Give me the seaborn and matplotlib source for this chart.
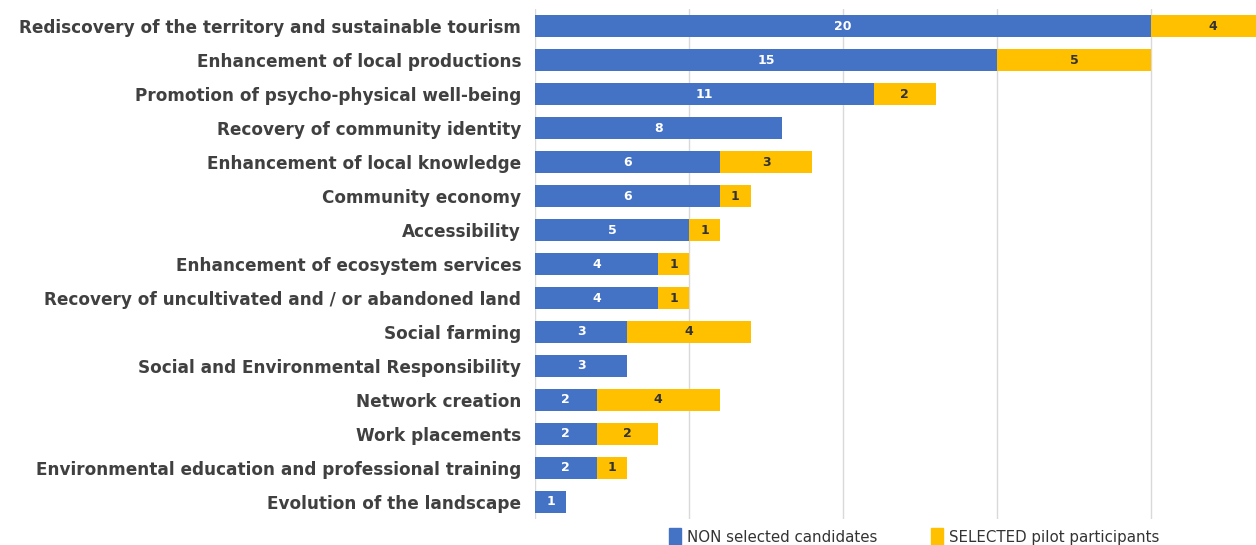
import matplotlib
matplotlib.use("Agg")
import matplotlib.pyplot as plt
import seaborn as sns
import pandas as pd
from matplotlib.patches import Patch

categories = [
    "Rediscovery of the territory and sustainable tourism",
    "Enhancement of local productions",
    "Promotion of psycho-physical well-being",
    "Recovery of community identity",
    "Enhancement of local knowledge",
    "Community economy",
    "Accessibility",
    "Enhancement of ecosystem services",
    "Recovery of uncultivated and / or abandoned land",
    "Social farming",
    "Social and Environmental Responsibility",
    "Network creation",
    "Work placements",
    "Environmental education and professional training",
    "Evolution of the landscape",
]
non_selected = [20, 15, 11, 8, 6, 6, 5, 4, 4, 3, 3, 2, 2, 2, 1]
selected = [4, 5, 2, 0, 3, 1, 1, 1, 1, 4, 0, 4, 2, 1, 0]
series_names = ["NON selected candidates", "SELECTED pilot participants"]
x_ticks = [0, 5, 10, 15, 20]

BLUE = "#4472C4"
YELLOW = "#FFC000"
TXT = "#404040"

sns.set_theme(style="white")
plt.rcParams["font.family"] = ["DejaVu Sans"]

df = pd.DataFrame({"cat": categories, "non": non_selected, "sel": selected})
df["total"] = df["non"] + df["sel"]

fig = plt.figure(figsize=(12.56, 5.45), dpi=100)
ax = fig.add_axes([0.426, 0.048, 0.574, 0.935])

sns.barplot(data=df, y="cat", x="total", color=YELLOW, orient="h", width=0.65,
            saturation=1, linewidth=0, ax=ax, zorder=2)
sns.barplot(data=df, y="cat", x="non", color=BLUE, orient="h", width=0.65,
            saturation=1, linewidth=0, ax=ax, zorder=3)

ax.set_xlim(0, 23.4)
ax.set_ylim(14.5, -0.5)
ax.set_xticks(x_ticks)
ax.set_xticklabels([])
ax.grid(axis="x", color="#d9d9d9", linewidth=1, zorder=0)
ax.set_axisbelow(True)
ax.set_xlabel("")
ax.set_ylabel("")
for s in ax.spines.values():
    s.set_visible(False)
ax.tick_params(axis="y", length=0, pad=10, labelsize=12.2, labelcolor=TXT)
for lbl in ax.get_yticklabels():
    lbl.set_fontweight("bold")
ax.tick_params(axis="x", length=0)

for i, (n, s) in enumerate(zip(non_selected, selected)):
    if n > 0:
        ax.text(n / 2, i, str(n), ha="center", va="center", color="white",
                fontsize=9, fontweight="bold", zorder=5)
    if s > 0:
        ax.text(n + s / 2, i, str(s), ha="center", va="center", color="#333333",
                fontsize=9, fontweight="bold", zorder=5)

handles = [Patch(facecolor=BLUE, edgecolor=BLUE), Patch(facecolor=YELLOW, edgecolor=YELLOW)]
fig.legend(handles, series_names, loc="center", bbox_to_anchor=(0.728, 0.014), ncol=2,
           frameon=False, fontsize=10.8, labelcolor="#333333", handlelength=0.8,
           handleheight=1.5, handletextpad=0.4, columnspacing=3.6)

fig.savefig("out.png", dpi=100)
